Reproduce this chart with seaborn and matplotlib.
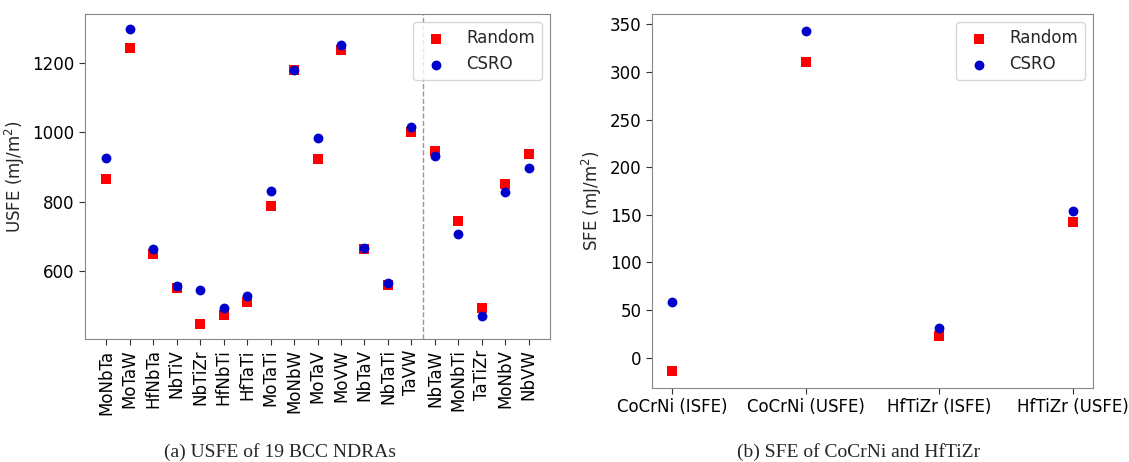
import matplotlib
matplotlib.use("Agg")
import matplotlib.pyplot as plt
import seaborn as sns
import pandas as pd

alloys = ["MoNbTa", "MoTaW", "HfNbTa", "NbTiV", "NbTiZr", "HfNbTi", "HfTaTi",
          "MoTaTi", "MoNbW", "MoTaV", "MoVW", "NbTaV", "NbTaTi", "TaVW",
          "NbTaW", "MoNbTi", "TaTiZr", "MoNbV", "NbVW"]
usfe_random = [865, 1243, 648, 551, 447, 475, 512, 787, 1180, 923, 1237, 665,
               560, 1000, 945, 744, 494, 852, 936]
usfe_csro = [927, 1298, 664, 558, 545, 495, 528, 832, 1180, 984, 1250, 667,
             565, 1014, 932, 707, 472, 829, 898]

sfe_cats = ["CoCrNi (ISFE)", "CoCrNi (USFE)", "HfTiZr (ISFE)", "HfTiZr (USFE)"]
sfe_random = [-14, 310, 23, 142]
sfe_csro = [58, 343, 31, 154]

sns.set_style("ticks")
plt.rcParams['font.family'] = ['DejaVu Sans']
plt.rcParams['font.sans-serif'] = ['DejaVu Sans']
plt.rcParams['font.size'] = 12

RED = "#ff0000"
BLUE = "#0000cc"
SPINE = "#888888"

fig = plt.figure(figsize=(11.29, 4.62), dpi=100)
W, H = 1129, 462
ax1 = fig.add_axes([85 / W, 1 - 339 / H, (550 - 85) / W, (339 - 14) / H])
ax2 = fig.add_axes([652 / W, 1 - 388 / H, (1093 - 652) / W, (388 - 14) / H])

df1 = pd.DataFrame({"alloy": alloys, "Random": usfe_random, "CSRO": usfe_csro})
df2 = pd.DataFrame({"cat": sfe_cats, "Random": sfe_random, "CSRO": sfe_csro})


def draw(ax, df, xcol):
    x = list(range(len(df)))
    sns.scatterplot(x=x, y=df["Random"], ax=ax, marker="s", color=RED, s=50,
                    linewidth=0, label="Random", zorder=3)
    sns.scatterplot(x=x, y=df["CSRO"], ax=ax, marker="o", color=BLUE, s=50,
                    linewidth=0, label="CSRO", zorder=4)
    ax.set_xticks(x)
    ax.set_xticklabels(df[xcol])
    for sp in ax.spines.values():
        sp.set_color(SPINE)
        sp.set_visible(True)
    ax.tick_params(axis="both", colors="#333333", labelcolor="black",
                   labelsize=12, length=4)
    leg = ax.legend(loc="upper right", fontsize=12, frameon=True)
    leg.get_frame().set_edgecolor("#cccccc")
    ax.set_xlabel("")


draw(ax1, df1, "alloy")
ax1.set_xlim(-0.9, len(alloys) - 0.1)
ax1.axvline(13.5, color="#999999", linestyle="--", linewidth=1, zorder=1)
ax1.set_yticks([600, 800, 1000, 1200])
ax1.tick_params(axis="x", labelrotation=90)
ax1.set_ylabel("USFE (mJ/m$^2$)", fontsize=12)

draw(ax2, df2, "cat")
ax2.set_xlim(-0.15, 3.15)
ax2.set_yticks(range(0, 351, 50))
ax2.set_ylabel("SFE (mJ/m$^2$)", fontsize=12)

fig.text(280 / W, 1 - 452 / H, "(a) USFE of 19 BCC NDRAs", ha="center",
         va="center", fontsize=14, family="Liberation Serif")
fig.text(859 / W, 1 - 452 / H, "(b) SFE of CoCrNi and HfTiZr", ha="center",
         va="center", fontsize=14, family="Liberation Serif")

fig.savefig("out.png", dpi=100)
